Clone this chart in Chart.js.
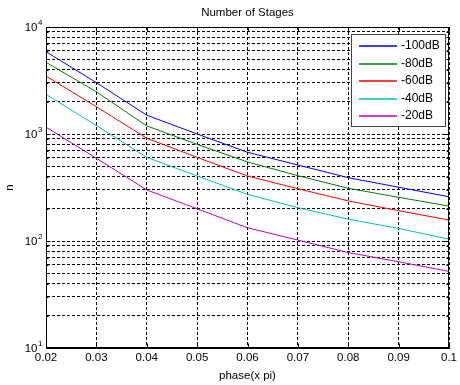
<!DOCTYPE html>
<html><head><meta charset="utf-8">
<script src="https://cdn.jsdelivr.net/npm/chart.js@4/dist/chart.umd.min.js"></script>
<style>html,body{margin:0;padding:0;background:#fff}canvas{display:block}</style>
</head><body>
<canvas id="c" width="460" height="385"></canvas>
<script>
const chartTitle = 'Number of Stages';
const xTitle = 'phase(x pi)';
const yTitle = 'n';
const phases = [0.02, 0.03, 0.04, 0.05, 0.06, 0.07, 0.08, 0.09, 0.1];
const seriesLabels = ['-100dB', '-80dB', '-60dB', '-40dB', '-20dB'];
const n100 = [5880, 3020, 1500, 1000, 675, 513, 391, 318, 259];
const n80  = [4680, 2480, 1190, 800, 548, 408, 311, 256, 212];
const n60  = [3480, 1800, 912, 605, 405, 308, 237, 192, 157];
const n40  = [2350, 1200, 605, 405, 273, 205, 160, 131, 104];
const n20  = [1160, 593, 300, 200, 133, 102, 78, 64, 52];
const yDecades = [10, 100, 1000, 10000];
const seriesColors = ['#0000ff', '#008000', '#ff0000', '#00bfbf', '#bf00bf'];

const FONT = '"Liberation Sans", Arial, sans-serif';
const allSeries = [n100, n80, n60, n40, n20];

const gridTicks = [];
yDecades.forEach((d, i) => {
  if (i < yDecades.length - 1) { for (let m = 1; m < 10; m++) gridTicks.push(d * m); }
  else gridTicks.push(d);
});

const matlabPlugin = {
  id: 'matlab',
  afterDraw(chart) {
    const ctx = chart.ctx, ca = chart.chartArea, ys = chart.scales.y, xs = chart.scales.x;
    ctx.save();
    ctx.setLineDash([]);
    ctx.strokeStyle = '#000'; ctx.lineWidth = 1;
    const L = Math.round(ca.left) + 0.5, R = Math.round(ca.right) - 0.5;
    const T = Math.round(ca.top) + 0.5, B = Math.round(ca.bottom) - 0.5;
    // small inner tick marks
    ctx.beginPath();
    phases.forEach(v => {
      const x = Math.round(xs.getPixelForValue(v)) + 0.5;
      ctx.moveTo(x, B); ctx.lineTo(x, B - 4);
      ctx.moveTo(x, T); ctx.lineTo(x, T + 4);
    });
    gridTicks.forEach(v => {
      const y = Math.round(ys.getPixelForValue(v)) + 0.5;
      const len = yDecades.includes(v) ? 4 : 2;
      ctx.moveTo(L, y); ctx.lineTo(L + len, y);
      ctx.moveTo(R, y); ctx.lineTo(R - len, y);
    });
    ctx.stroke();
    // box
    ctx.strokeRect(L, T, R - L, B - T);
    // title
    ctx.fillStyle = '#000';
    ctx.font = '11.5px ' + FONT;
    ctx.textAlign = 'center'; ctx.textBaseline = 'middle';
    ctx.fillText(chartTitle, (ca.left + ca.right) / 2, 13);
    // y decade labels with superscript
    yDecades.forEach(d => {
      const y = ys.getPixelForValue(d);
      const e = String(Math.round(Math.log10(d)));
      ctx.font = '11.5px ' + FONT;
      ctx.textAlign = 'right'; ctx.textBaseline = 'middle';
      ctx.fillText('10', 37.5, y + 1);
      ctx.font = '8px ' + FONT;
      ctx.textAlign = 'left';
      ctx.fillText(e, 38, y - 4.5);
    });
    // legend
    const bw = 94, bh = 92;
    const bx = Math.round(ca.right) - 4 - bw, by = Math.round(ca.top) + 7;
    ctx.fillStyle = '#fff';
    ctx.fillRect(bx, by, bw, bh);
    ctx.strokeStyle = '#444'; ctx.lineWidth = 1;
    ctx.strokeRect(bx + 0.5, by + 0.5, bw, bh);
    ctx.font = '12px ' + FONT;
    ctx.textAlign = 'left'; ctx.textBaseline = 'middle';
    seriesLabels.forEach((lab, i) => {
      const ry = Math.round(by + 12 + i * 17.6);
      ctx.strokeStyle = seriesColors[i]; ctx.lineWidth = 1.5;
      ctx.beginPath(); ctx.moveTo(bx + 8, ry); ctx.lineTo(bx + 46, ry); ctx.stroke();
      ctx.fillStyle = '#000';
      ctx.fillText(lab, bx + 50, ry);
    });
    ctx.restore();
  }
};

new Chart(document.getElementById('c'), {
  type: 'line',
  data: {
    datasets: allSeries.map((s, i) => ({
      label: seriesLabels[i],
      data: phases.map((p, j) => ({ x: p, y: s[j] })),
      borderColor: seriesColors[i],
      backgroundColor: seriesColors[i],
      borderWidth: 1,
      pointRadius: 0,
      tension: 0,
      fill: false
    }))
  },
  options: {
    responsive: false,
    animation: false,
    devicePixelRatio: 1,
    layout: { padding: { top: 27, right: 7, left: 0, bottom: 0 } },
    plugins: { legend: { display: false }, title: { display: false }, tooltip: { enabled: false } },
    scales: {
      x: {
        type: 'linear', min: 0.02, max: 0.1,
        afterBuildTicks: (scale) => { scale.ticks = phases.map(v => ({ value: v })); },
        afterFit: (scale) => { scale.height = 37; },
        ticks: {
          color: '#000', padding: 3, maxRotation: 0, autoSkip: false,
          font: { family: FONT, size: 11.5 },
          callback: (v) => String(parseFloat(Number(v).toFixed(2)))
        },
        grid: { color: '#000', lineWidth: 1, drawTicks: false },
        border: { display: true, color: '#000', dash: [3, 2] },
        title: { display: true, text: xTitle, color: '#000', font: { family: FONT, size: 11.5 }, padding: { top: 0, bottom: 2 } }
      },
      y: {
        type: 'logarithmic', min: 10, max: 10000,
        afterBuildTicks: (scale) => { scale.ticks = gridTicks.map(v => ({ value: v })); },
        afterFit: (scale) => { scale.width = 46; },
        ticks: { display: false },
        grid: { color: '#000', lineWidth: 1, drawTicks: false },
        border: { display: true, color: '#000', dash: [3, 2] },
        title: { display: true, text: yTitle, color: '#000', font: { family: FONT, size: 11.5 }, padding: { top: 3, bottom: 0 } }
      }
    }
  },
  plugins: [matlabPlugin]
});
</script>
</body></html>
